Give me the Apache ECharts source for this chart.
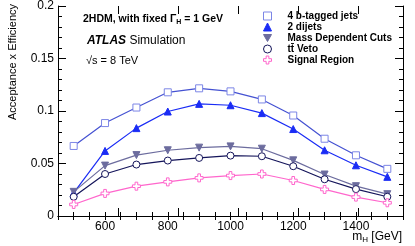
<!DOCTYPE html>
<html><head><meta charset="utf-8">
<script src="https://cdn.jsdelivr.net/npm/echarts@6/dist/echarts.min.js"></script>
<style>html,body{margin:0;padding:0;background:#fff}#c{width:415px;height:246px}</style>
</head><body><div id="c"></div>
<script>
const masses = [500, 600, 700, 800, 900, 1000, 1100, 1200, 1300, 1400, 1500];
const fourBTagged = [0.0667, 0.0885, 0.1033, 0.1178, 0.1216, 0.1187, 0.1110, 0.0957, 0.0736, 0.0578, 0.0449];
const twoDijets = [0.0220, 0.0620, 0.0837, 0.0995, 0.1068, 0.1055, 0.0980, 0.0828, 0.0626, 0.0483, 0.0373];
const massDependent = [0.0230, 0.0480, 0.0580, 0.0626, 0.0651, 0.0663, 0.0641, 0.0530, 0.0395, 0.0284, 0.0208];
const ttVeto = [0.0183, 0.0400, 0.0490, 0.0528, 0.0553, 0.0575, 0.0569, 0.0474, 0.0350, 0.0256, 0.0183];
const signalRegion = [0.0110, 0.0215, 0.0284, 0.0325, 0.0363, 0.0385, 0.0400, 0.0338, 0.0253, 0.0180, 0.0126];
const yTicks = [0, 0.05, 0.1, 0.15, 0.2];
const xTickLabels = [600, 800, 1000, 1200, 1400];
const seriesNames = ['4 b-tagged jets', '2 dijets', 'Mass Dependent Cuts', 't\u0074\u0304 Veto', 'Signal Region'];

const F = '"Liberation Sans", Arial, Helvetica, sans-serif';
const crossPath = 'path://M-1,-3 L1,-3 L1,-1 L3,-1 L3,1 L1,1 L1,3 L-1,3 L-1,1 L-3,1 L-3,-1 L-1,-1 Z';
const downTri = 'path://M-4,-3.5 L4,-3.5 L0,3.5 Z';
const styles = [
  {line: '#4552d2', marker: '#7c86e6', symbol: 'rect', size: 7, fill: '#fff'},
  {line: '#1a2cf5', marker: '#1a2cf5', symbol: 'triangle', size: 7, fill: '#1a2cf5'},
  {line: '#6c6c9e', marker: '#6c6c9e', symbol: downTri, size: 7, fill: '#6c6c9e'},
  {line: '#14145a', marker: '#14145a', symbol: 'circle', size: 7, fill: '#fff'},
  {line: '#ff66cc', marker: '#ff66cc', symbol: crossPath, size: 8, fill: '#fff'}
];
const dataSets = [fourBTagged, twoDijets, massDependent, ttVeto, signalRegion];

const chart = echarts.init(document.getElementById('c'), null, {renderer: 'canvas'});
const axisLine = {show: true, lineStyle: {color: '#000', width: 1}};
const xBase = {type: 'value', min: 450, max: 1550, interval: 50, splitLine: {show: false}, axisLine: axisLine};
const yBase = {type: 'value', min: 0, max: 0.2, interval: 0.05, splitLine: {show: false}, axisLine: axisLine,
  minorTick: {show: true, splitNumber: 5, length: 4, lineStyle: {color: '#000'}}};

chart.setOption({
  animation: false,
  grid: {left: 58, right: 12, top: 5, bottom: 30, containLabel: false},
  xAxis: [
    Object.assign({}, xBase, {position: 'bottom',
      axisTick: {inside: true, length: 4, lineStyle: {color: '#000'}},
      axisLabel: {margin: 5, fontFamily: F, fontSize: 12, color: '#000',
        formatter: v => (xTickLabels.indexOf(v) >= 0 ? String(v) : '')}}),
    Object.assign({}, xBase, {position: 'top',
      axisTick: {inside: true, length: 4, lineStyle: {color: '#000'}},
      axisLabel: {show: false}}),
    Object.assign({}, xBase, {position: 'bottom', interval: 200, min: 400, max: 1550,
      axisLine: {show: false}, axisTick: {inside: true, length: 8, lineStyle: {color: '#000'}}, axisLabel: {show: false}}),
    Object.assign({}, xBase, {position: 'top', interval: 200, min: 400, max: 1550,
      axisLine: {show: false}, axisTick: {inside: true, length: 8, lineStyle: {color: '#000'}}, axisLabel: {show: false}})
  ],
  yAxis: [
    Object.assign({}, yBase, {position: 'left',
      axisTick: {inside: true, length: 8, lineStyle: {color: '#000'}},
      axisLabel: {margin: 4, fontFamily: F, fontSize: 12, color: '#000',
        formatter: v => String(parseFloat(v.toFixed(3)))}}),
    Object.assign({}, yBase, {position: 'right',
      axisTick: {inside: true, length: 8, lineStyle: {color: '#000'}},
      axisLabel: {show: false}})
  ],
  legend: {
    orient: 'vertical', left: 263, top: 11, itemWidth: 8, itemHeight: 8, itemGap: 1, padding: 0,
    textStyle: {fontFamily: F, fontSize: 10, fontWeight: 'bold', color: '#000', padding: [0, 0, 0, 11], lineHeight: 10},
    data: seriesNames.map((n, i) => ({
      name: n, icon: styles[i].symbol,
      itemStyle: {color: styles[i].fill, borderColor: styles[i].marker, borderWidth: 1}
    }))
  },
  series: dataSets.map((d, i) => ({
    name: seriesNames[i], type: 'line', xAxisIndex: 0, yAxisIndex: 0,
    data: masses.map((m, j) => [m, d[j]]),
    symbol: styles[i].symbol, symbolSize: styles[i].size,
    showAllSymbol: true,
    lineStyle: {color: styles[i].line, width: 1.2},
    itemStyle: {color: styles[i].fill, borderColor: styles[i].marker, borderWidth: 1},
    z: 2 + i
  })),
  graphic: [
    {type: 'text', x: 13, y: 4, rotation: Math.PI / 2,
      style: {text: 'Acceptance x Efficiency', font: '11px ' + F, fill: '#000', align: 'right', verticalAlign: 'middle'}},
    {type: 'text', x: 402, y: 237,
      style: {text: '{m|m}{s|H}{m| [GeV]}', align: 'right', verticalAlign: 'middle', fill: '#000',
        rich: {m: {fontFamily: F, fontSize: 12, fill: '#000', lineHeight: 14, verticalAlign: 'middle'},
               s: {fontFamily: F, fontSize: 8, fill: '#000', lineHeight: 14, verticalAlign: 'bottom', padding: [6, 0, 0, 0]}}}},
    {type: 'text', x: 83, y: 19,
      style: {text: '{b|2HDM, with fixed Γ}{s|H}{b| = 1 GeV}', verticalAlign: 'middle', fill: '#000',
        rich: {b: {fontFamily: F, fontSize: 10.5, fontWeight: 'bold', fill: '#000', lineHeight: 13, verticalAlign: 'middle'},
               s: {fontFamily: F, fontSize: 7, fontWeight: 'bold', fill: '#000', lineHeight: 13, verticalAlign: 'bottom', padding: [5, 0, 0, 0]}}}},
    {type: 'text', x: 87, y: 41,
      style: {text: '{a|ATLAS} {b|Simulation}', verticalAlign: 'middle', fill: '#000',
        rich: {a: {fontFamily: F, fontSize: 12, fontWeight: 'bold', fontStyle: 'italic', fill: '#000'},
               b: {fontFamily: F, fontSize: 12, fill: '#000'}}}},
    {type: 'text', x: 86, y: 61,
      style: {text: '√s = 8 TeV', font: '11px ' + F, fill: '#000', verticalAlign: 'middle'}}
  ]
});
</script></body></html>
